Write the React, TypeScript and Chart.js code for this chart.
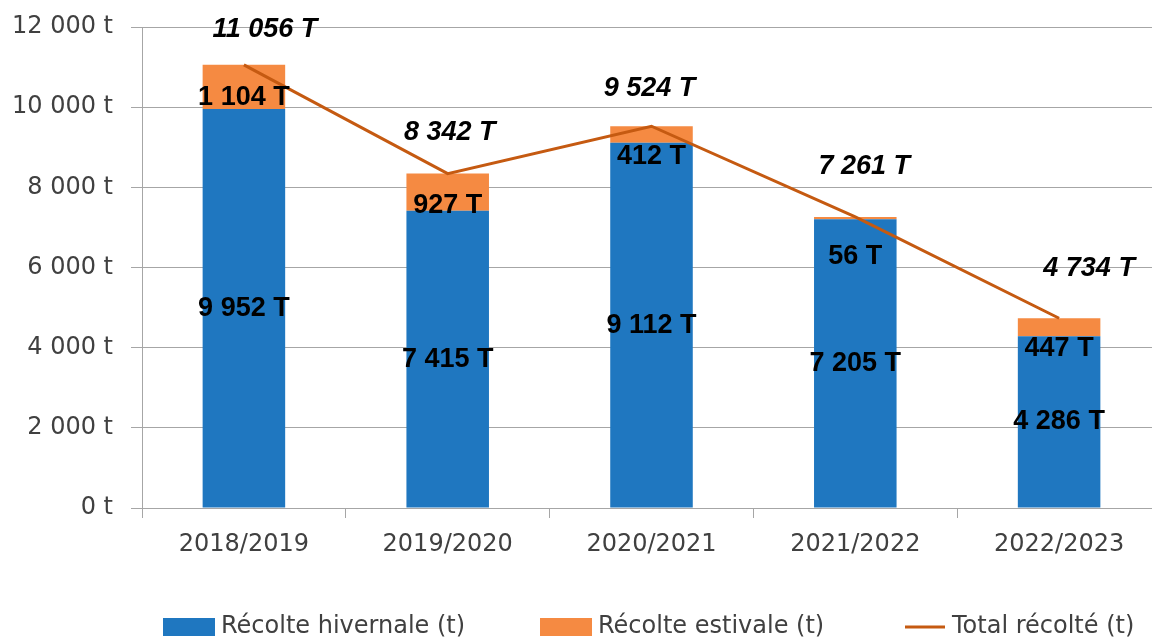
import { useEffect, useRef } from 'react';
import { Chart, registerables } from 'chart.js';

Chart.register(...registerables);

const categories = ['2018/2019', '2019/2020', '2020/2021', '2021/2022', '2022/2023'];
const winterHarvest = [9952, 7415, 9112, 7205, 4286];
const summerHarvest = [1104, 927, 412, 56, 447];
const totalHarvest = [11056, 8342, 9524, 7261, 4734];
const yTickValues = [0, 2000, 4000, 6000, 8000, 10000, 12000];
const seriesNames = ['Récolte hivernale (t)', 'Récolte estivale (t)', 'Total récolté (t)'];

const BLUE = '#1f77c0';
const ORANGE = '#f58a42';
const LINE = '#c55a11';
const GRID = '#a6a6a6';
const TICK_TEXT = '#404040';

// label nudges in pixels (styling, not data)
const summerLabelDy = [-12, -5, 14, 37, 12];
const totalLabelDx = [21, 2, -2, 9, 30];
const totalLabelDy = [-35, -41, -38, -50, -50];

const fmt = (v: number) => String(v).replace(/\B(?=(\d{3})+(?!\d))/g, ' ');

const valueLabels = {
  id: 'valueLabels',
  afterDatasetsDraw(chart: any) {
    const ctx = chart.ctx;
    ctx.save();
    ctx.fillStyle = '#000';
    ctx.textAlign = 'center';
    ctx.textBaseline = 'middle';
    const wMeta = chart.getDatasetMeta(0);
    const sMeta = chart.getDatasetMeta(1);
    const tMeta = chart.getDatasetMeta(2);
    ctx.font = 'bold 27px "Liberation Sans", Arial, sans-serif';
    wMeta.data.forEach((el: any, i: number) => {
      ctx.fillText(fmt(winterHarvest[i]) + ' T', el.x, (el.y + el.base) / 2);
    });
    sMeta.data.forEach((el: any, i: number) => {
      ctx.fillText(fmt(summerHarvest[i]) + ' T', el.x, el.base + summerLabelDy[i]);
    });
    ctx.font = 'italic bold 27px "Liberation Sans", Arial, sans-serif';
    tMeta.data.forEach((el: any, i: number) => {
      ctx.fillText(fmt(totalHarvest[i]) + ' T', el.x + totalLabelDx[i], el.y + totalLabelDy[i]);
    });
    ctx.restore();
  },
};

const customLegend = {
  id: 'customLegend',
  afterDraw(chart: any) {
    const ctx = chart.ctx;
    const ds = chart.data.datasets;
    const starts = [163, 540, 905];
    const cy = 627;
    ctx.save();
    ctx.font = '24px "DejaVu Sans", sans-serif';
    ctx.textBaseline = 'middle';
    ctx.textAlign = 'left';
    ds.forEach((d: any, i: number) => {
      const x0 = starts[i];
      let textX;
      if (d.type === 'line') {
        ctx.strokeStyle = d.borderColor;
        ctx.lineWidth = 3;
        ctx.beginPath();
        ctx.moveTo(x0, cy);
        ctx.lineTo(x0 + 40, cy);
        ctx.stroke();
        textX = x0 + 47;
      } else {
        ctx.fillStyle = d.backgroundColor;
        ctx.fillRect(x0, 618, 52, 18);
        textX = x0 + 58;
      }
      ctx.fillStyle = TICK_TEXT;
      ctx.fillText(d.label, textX, cy);
    });
    ctx.restore();
  },
};

export default function App() {
  const ref = useRef<HTMLCanvasElement>(null);
  useEffect(() => {
    document.body.style.margin = '0';
    document.body.style.overflow = 'hidden';
    const tickFont = { family: '"DejaVu Sans", sans-serif', size: 24 };
    const chart = new Chart(ref.current as HTMLCanvasElement, {
      type: 'bar',
      data: {
        labels: categories,
        datasets: [
          {
            type: 'bar',
            label: seriesNames[0],
            data: winterHarvest,
            backgroundColor: BLUE,
            order: 1,
            stack: 'harvest',
            barPercentage: 0.405,
            categoryPercentage: 1,
          },
          {
            type: 'bar',
            label: seriesNames[1],
            data: summerHarvest,
            backgroundColor: ORANGE,
            order: 1,
            stack: 'harvest',
            barPercentage: 0.405,
            categoryPercentage: 1,
          },
          {
            type: 'line',
            label: seriesNames[2],
            data: totalHarvest,
            borderColor: LINE,
            backgroundColor: LINE,
            borderWidth: 3,
            pointRadius: 0,
            order: 0,
            stack: 'total',
          },
        ] as any,
      },
      options: {
        animation: false,
        responsive: false,
        devicePixelRatio: 1,
        layout: { padding: { top: 27, right: 0, bottom: 69, left: 0 } },
        plugins: {
          legend: { display: false },
          tooltip: { enabled: false },
        },
        scales: {
          x: {
            stacked: true,
            grid: { offset: true, drawOnChartArea: false, tickLength: 10, color: GRID },
            border: { color: GRID },
            ticks: { font: tickFont, color: TICK_TEXT, padding: 12 },
            afterFit: (s: any) => {
              s.height = 60;
            },
          },
          y: {
            stacked: true,
            min: 0,
            max: 12000,
            afterBuildTicks: (s: any) => {
              s.ticks = yTickValues.map((v) => ({ value: v }));
            },
            ticks: {
              font: tickFont,
              color: TICK_TEXT,
              padding: 18,
              callback: (v: any) => fmt(Number(v)) + ' t',
            },
            grid: { color: GRID, tickLength: 11 },
            border: { color: GRID },
            afterFit: (s: any) => {
              s.width = 142;
              s.paddingTop = 0;
              s.paddingBottom = 0;
            },
          },
        },
      } as any,
      plugins: [valueLabels, customLegend],
    });
    return () => chart.destroy();
  }, []);
  return <canvas ref={ref} width={1161} height={637} style={{ display: 'block' }} />;
}
